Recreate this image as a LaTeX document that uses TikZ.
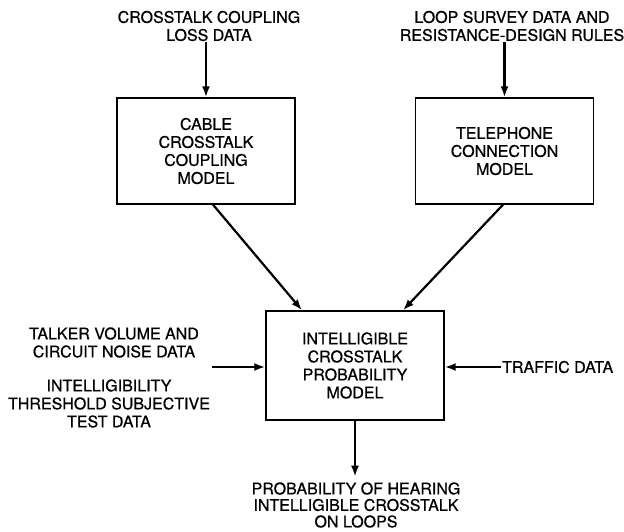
\documentclass[tikz,border=0pt]{standalone}
\usepackage{fontspec}
\setmainfont{TeX Gyre Heros}[FakeBold=0.7]
\usepackage{tikz}
\usetikzlibrary{arrows.meta,positioning,calc}

\begin{document}
\begin{tikzpicture}[x=1pt,y=-1pt,font=\fontsize{16}{18}\selectfont,
		modele/.style={draw,line width=1.4pt,minimum width=178pt,minimum height=106pt,align=center,inner sep=0pt},
		donnee/.style={align=center,inner sep=1pt},
		fl/.style={-{Latex[length=11pt,width=8pt]},line width=2.2pt}]
	\useasboundingbox (0,0) rectangle (624,531);
	
	%% Modeles
	\node[modele] (cable) at (206,151) {CABLE\\CROSSTALK\\COUPLING\\MODEL};
	\node[modele] (phone) at (504.5,151) {TELEPHONE\\CONNECTION\\MODEL};
	\node[modele,minimum height=109pt] (prob) at (355,365.5) {INTELLIGIBLE\\CROSSTALK\\PROBABILITY\\MODEL};
	
	%% Donnees en entree
	\node[donnee] (coupling) at (209,26) {CROSSTALK COUPLING\\LOSS DATA};
	\node[donnee] (loop) at (512,26) {LOOP SURVEY DATA AND\\RESISTANCE-DESIGN RULES};
	\node[donnee] (talker) at (114,342.5) {TALKER VOLUME AND\\CIRCUIT NOISE DATA};
	\node[donnee] (thresh) at (109,403.5) {INTELLIGIBILITY\\THRESHOLD SUBJECTIVE\\TEST DATA};
	\node[donnee,anchor=west] (traffic) at (501,367) {TRAFFIC DATA};
	\node[donnee,font=\fontsize{16}{16.5}\selectfont] (hearing) at (356,505) {PROBABILITY OF HEARING\\INTELLIGIBLE CROSSTALK\\ON LOOPS};
	\coordinate (talkin) at (212,367);
	
	%% Fleches
	\draw[fl] (coupling.south -| cable.north) -- (cable.north);
	\draw[fl] (loop.south -| phone.north) -- (phone.north);
	\draw[fl] ([xshift=7pt]cable.south) -- ([xshift=-53pt]prob.north);
	\draw[fl] ([xshift=-1.5pt]phone.south) -- ([xshift=48pt]prob.north);
	\draw[fl] (talkin) -- (talkin -| prob.west);
	\draw[fl] (traffic.west) -- (traffic.west -| prob.east);
	\draw[fl] (prob.south) -- ++(0,56);
\end{tikzpicture}
\end{document}
